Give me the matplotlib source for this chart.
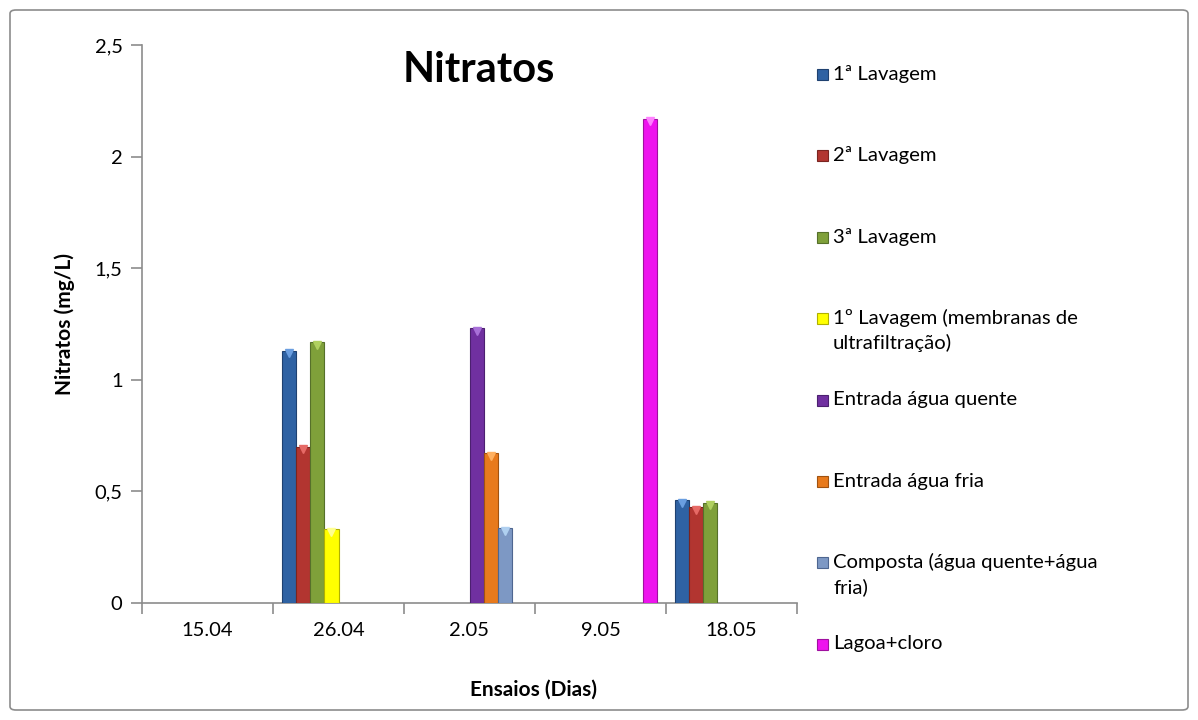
import numpy as np
import matplotlib
matplotlib.use('Agg')
import matplotlib.pyplot as plt
from matplotlib.patches import FancyBboxPatch, Rectangle

plt.rcParams['font.family'] = ['Lato', 'DejaVu Sans']

# data (nan = no bar)
nan = np.nan
categories = ['15.04', '26.04', '2.05', '9.05', '18.05']
lavagem_1 = [nan, 1.13, nan, nan, 0.46]
lavagem_2 = [nan, 0.70, nan, nan, 0.43]
lavagem_3 = [nan, 1.17, nan, nan, 0.45]
lavagem_membranas = [nan, 0.33, nan, nan, nan]
entrada_quente = [nan, nan, 1.23, nan, nan]
entrada_fria = [nan, nan, 0.67, nan, nan]
composta = [nan, nan, 0.335, nan, nan]
lagoa_cloro = [nan, nan, nan, 2.17, nan]

series_names = ['1ª Lavagem', '2ª Lavagem', '3ª Lavagem',
                '1º Lavagem (membranas de\nultrafiltração)',
                'Entrada água quente', 'Entrada água fria',
                'Composta (água quente+água\nfria)', 'Lagoa+cloro']
yticks = [0, 0.5, 1, 1.5, 2, 2.5]
ytick_labels = ['0', '0,5', '1', '1,5', '2', '2,5']

series = [lavagem_1, lavagem_2, lavagem_3, lavagem_membranas,
          entrada_quente, entrada_fria, composta, lagoa_cloro]
colors = ['#2f62a3', '#b23530', '#7fa03a', '#ffff00',
          '#7030a0', '#e87a1c', '#7d98c4', '#ee14ee']
edges = ['#1f4170', '#7a2420', '#56702a', '#b0b000',
         '#4c2070', '#a05210', '#4e6690', '#a010a0']
tops = ['#6a9ee0', '#e66a66', '#b0d060', '#ffff90',
        '#a870d8', '#ffb060', '#b0d0f0', '#ff80ff']

fig = plt.figure(figsize=(11.98, 7.2), dpi=100)
ax = fig.add_axes([142 / 1198, 1 - 603 / 720, (797 - 142) / 1198, (603 - 45) / 720])

x = np.arange(len(categories))
w = 0.107
for j, vals in enumerate(series):
    vals = np.array(vals, dtype=float)
    m = ~np.isnan(vals)
    xs = x[m] + (j - 3.5) * w
    ax.bar(xs, vals[m], width=w, color=colors[j], edgecolor=edges[j],
           linewidth=0.8, zorder=3)
    # small bevel triangle at top of each bar, like the excel style
    ax.plot(xs, vals[m] - 0.012, linestyle='none', marker='v', markersize=6,
            color=tops[j], zorder=4)

ax.set_xlim(-0.5, len(categories) - 0.5)
ax.set_ylim(0, 2.5)
ax.set_yticks(yticks)
ax.set_yticklabels(ytick_labels)
ax.set_xticks(x)
ax.set_xticklabels(categories)
ax.set_xticks(np.arange(len(categories) + 1) - 0.5, minor=True)
ax.tick_params(axis='x', which='major', length=0, labelsize=14.5, pad=14)
ax.tick_params(axis='x', which='minor', length=8, color='#8c8c8c', width=1.2)
ax.tick_params(axis='y', length=8, color='#8c8c8c', width=1.2, labelsize=14.5, pad=6)

for s in ['top', 'right']:
    ax.spines[s].set_visible(False)
for s in ['left', 'bottom']:
    ax.spines[s].set_color('#8c8c8c')
    ax.spines[s].set_linewidth(1.2)

ax.set_ylabel('Nitratos (mg/L)', fontsize=15, fontweight='bold', labelpad=14)
fig.text(534 / 1198, 1 - 690 / 720, 'Ensaios (Dias)', fontsize=15,
         fontweight='bold', ha='center', va='center')
fig.text(479 / 1198, 1 - 70 / 720, 'Nitratos', fontsize=30,
         fontweight='bold', ha='center', va='center')

# legend drawn by hand so the square sits on the first line of each label
for i, name in enumerate(series_names):
    yc = 74 + i * 81.4
    fig.patches.append(Rectangle((817 / 1198, 1 - (yc + 6) / 720), 11 / 1198, 11 / 720,
                                 transform=fig.transFigure, facecolor=colors[i],
                                 edgecolor=edges[i], linewidth=0.8))
    for k, line in enumerate(name.split('\n')):
        fig.text(833 / 1198, 1 - (yc + k * 25) / 720, line, fontsize=14.6,
                 ha='left', va='center')

border = FancyBboxPatch((10 / 1198, 10 / 720), 1178 / 1198, 700 / 720,
                        boxstyle='round,pad=0,rounding_size=0.005',
                        transform=fig.transFigure, facecolor='none',
                        edgecolor='#8c8c8c', linewidth=1.2)
fig.patches.append(border)

fig.savefig('out.png', dpi=100)
